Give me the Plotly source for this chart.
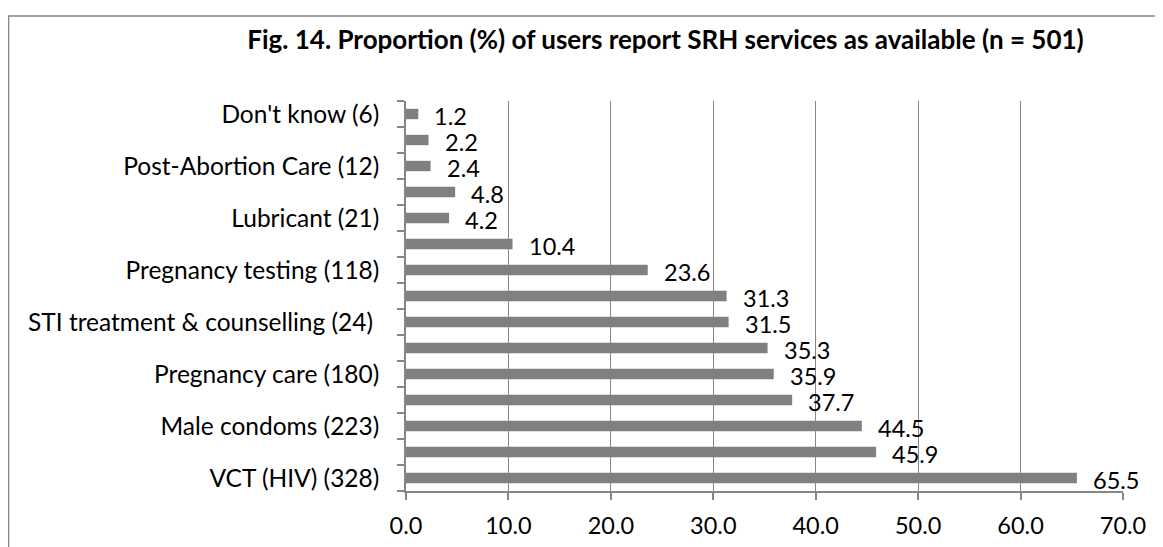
import plotly.graph_objects as go

# Data (bottom to top as drawn)
labels = ["VCT (HIV) (328)", "", "Male condoms (223)", "", "Pregnancy care (180)", "",
          "STI treatment & counselling (24) ", "", "Pregnancy testing (118)", "",
          "Lubricant (21)", "", "Post-Abortion Care (12)", "", "Don't know (6)"]
values = [65.5, 45.9, 44.5, 37.7, 35.9, 35.3, 31.5, 31.3, 23.6, 10.4, 4.2, 4.8, 2.4, 2.2, 1.2]
value_text = ["%.1f" % v for v in values]
x_ticks = [0, 10, 20, 30, 40, 50, 60, 70]
title_text = "Fig. 14. Proportion (%) of users report SRH services as available (n = 501)"

positions = list(range(len(values)))
FONT = "Lato"
GRAY = "#868686"

# page body has an 8px margin; work in screen pixels minus that offset
OFF = 8
W, H = 1163 - OFF, 547 - OFF
L = 405.5 - OFF
T = 101 - OFF
R = W - (1123.5 - OFF)
B = H - (490.7 - OFF)
pw, ph = W - L - R, H - T - B


def px_x(p):
    return (p - OFF - L) / pw


def px_y(p):
    return (H - B - (p - OFF)) / ph


fig = go.Figure()
fig.add_trace(go.Bar(
    x=values, y=positions, orientation="h", width=0.4,
    marker=dict(color="#808080", line=dict(width=0)),
    hoverinfo="x",
))

for v, p, t in zip(values, positions, value_text):
    fig.add_annotation(x=v, y=p, text=t, showarrow=False, xanchor="left",
                       yanchor="middle", xshift=14, yshift=-2,
                       font=dict(family=FONT, size=23.5, color="#000000"))

fig.add_shape(type="rect", xref="paper", yref="paper",
              x0=px_x(7.5), x1=px_x(1180), y0=px_y(16), y1=px_y(570),
              line=dict(color=GRAY, width=1.5), fillcolor="rgba(0,0,0,0)", layer="below")

fig.update_layout(
    width=W, height=H,
    margin=dict(l=L, r=R, t=T, b=B, pad=0, autoexpand=False),
    paper_bgcolor="white", plot_bgcolor="white",
    showlegend=False,
    title=dict(text="<b>" + title_text + "</b>", x=(665.5 - OFF) / W,
               xanchor="center", y=1 - (40 - OFF) / H, yanchor="middle",
               font=dict(family=FONT, size=26, color="#000000")),
    font=dict(family=FONT, size=23.5, color="#000000"),
)

fig.update_xaxes(
    range=[0, 70], tickvals=x_ticks, tickformat=".1f",
    showgrid=True, gridcolor=GRAY, gridwidth=1,
    showline=True, linecolor=GRAY, linewidth=1.5,
    ticks="outside", ticklen=7, tickcolor=GRAY, tickwidth=1.5,
    ticklabelstandoff=6, automargin=False,
    zeroline=False, fixedrange=True,
    tickfont=dict(family=FONT, size=23.5, color="#000000"),
)
fig.update_yaxes(
    range=[-0.5, len(values) - 0.5],
    tickvals=positions, ticktext=labels,
    ticks="", showgrid=False, zeroline=False,
    showline=True, linecolor=GRAY, linewidth=1.5,
    minor=dict(tickvals=[i - 0.5 for i in range(len(values) + 1)],
               ticks="outside", ticklen=7, tickcolor=GRAY, tickwidth=1.5, showgrid=False),
    ticklabelstandoff=20, automargin=False,
    tickfont=dict(family=FONT, size=24.5, color="#000000"),
    fixedrange=True,
)

fig.write_html("out.html")
